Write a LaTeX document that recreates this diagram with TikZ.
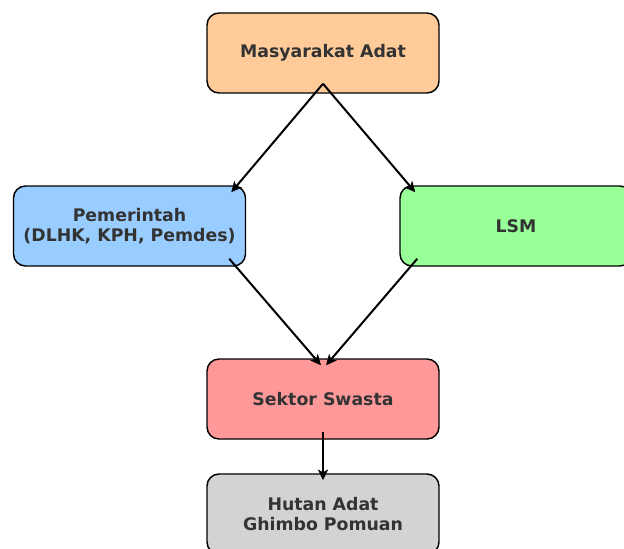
\documentclass[tikz,border=0pt]{standalone}
\usepackage{fontspec}
\setmainfont{DejaVu Sans}
\usetikzlibrary{arrows.meta,calc}
\definecolor{txt}{HTML}{333333}
\definecolor{corange}{HTML}{FFCC99}
\definecolor{cblue}{HTML}{99CCFF}
\definecolor{cgreen}{HTML}{99FF99}
\definecolor{cred}{HTML}{FF9999}
\definecolor{cgrey}{HTML}{D3D3D3}
\begin{document}
\begin{tikzpicture}[x=0.75pt,y=-0.75pt,
  box/.style={draw=black,line width=1.1pt,rounded corners=9pt,
    minimum width=174pt,minimum height=60pt,inner sep=0pt,align=center,
    text=txt,font=\bfseries\fontsize{13}{15}\selectfont},
  conn/.style={line width=1.5pt,-{Stealth[length=8pt,width=7.5pt,inset=2pt]}}]
\useasboundingbox (0,0) rectangle (624,549);
\clip (0,0) rectangle (624,549);
\node[box,fill=corange] (ma) at (323,53) {Masyarakat Adat};
\node[box,fill=cblue] (pem) at (129.5,226) {Pemerintah\\(DLHK, KPH, Pemdes)};
\node[box,fill=cgreen] (lsm) at (516,226) {LSM};
\node[box,fill=cred] (ss) at (323,399) {Sektor Swasta};
\node[box,fill=cgrey] (ha) at (323,514) {Hutan Adat\\Ghimbo Pomuan};
\draw[conn] ($(ma.south)+(0,-10)$) -- ($(pem.north east)+(-15,7)$);
\draw[conn] ($(ma.south)+(0,-10)$) -- ($(lsm.north west)+(16,7)$);
\draw[conn] ($(pem.south east)+(-17,-8)$) -- ($(ss.north)+(-2,7)$);
\draw[conn] ($(lsm.south west)+(18,-8)$) -- ($(ss.north)+(3,7)$);
\draw[conn] ($(ss.south)+(0,-8)$) -- ($(ha.north)+(0,7)$);
\end{tikzpicture}
\end{document}
